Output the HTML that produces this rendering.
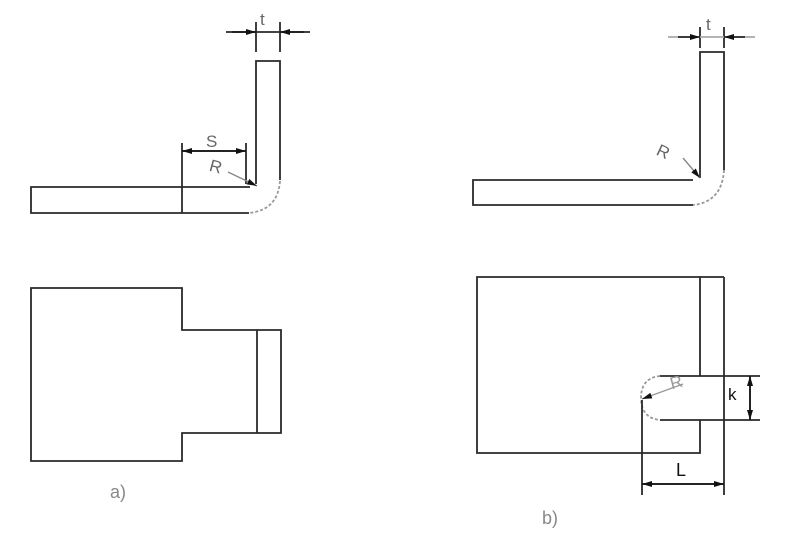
<!DOCTYPE html>
<html><head><meta charset="utf-8"><style>html,body{margin:0;padding:0;background:#fff}svg{display:block}</style></head>
<body>
<svg width="786" height="533" viewBox="0 0 786 533" xmlns="http://www.w3.org/2000/svg">
<defs>
<marker id="ar" markerWidth="10" markerHeight="6" refX="10" refY="3" orient="auto" markerUnits="userSpaceOnUse"><path d="M0,0 L10,3 L0,6 Z" fill="#111"/></marker>
</defs>
<g fill="none" stroke="#2a2a2a" stroke-width="1.8">
<!-- Fig a top -->
<path d="M250,187 H31 V213 H249"/>
<line x1="182" y1="143" x2="182" y2="213"/>
<path d="M256,184 V61 H280 V180"/>
<path d="M280,181 Q278,210 249,213" stroke="#999" stroke-dasharray="3,2"/>
<line x1="256" y1="22" x2="256" y2="52"/>
<line x1="280" y1="22" x2="280" y2="52"/>
<line x1="226" y1="32" x2="310" y2="32"/>
<line x1="246" y1="143" x2="246" y2="184"/>
<line x1="182" y1="151" x2="246" y2="151"/>
<!-- Fig a bottom -->
<path d="M31,288 H182 V330 H281 V433 H182 V461 H31 Z"/>
<line x1="257" y1="330" x2="257" y2="433"/>
<!-- Fig b top -->
<path d="M693,180 H473 V205 H693"/>
<path d="M700,178 V52 H724 V170"/>
<path d="M724,170 Q722,202 693,205" stroke="#999" stroke-dasharray="3,2"/>
<line x1="700" y1="27" x2="700" y2="48"/>
<line x1="724" y1="27" x2="724" y2="48"/>
<line x1="668" y1="37" x2="755" y2="37" stroke="#aaa"/>
<!-- Fig b bottom -->
<path d="M700,376 V277 H477 V453 H700 V420"/>
<line x1="700" y1="277" x2="724" y2="277"/>
<line x1="724" y1="277" x2="724" y2="495"/>
<line x1="660" y1="376" x2="760" y2="376"/>
<line x1="660" y1="420" x2="760" y2="420"/>
<path d="M660,376 Q641,378 641,398 Q641,418 660,420" stroke="#999" stroke-dasharray="3,2"/>
<line x1="642" y1="400" x2="642" y2="495"/>
<line x1="642" y1="484" x2="724" y2="484"/>
<line x1="750" y1="376" x2="750" y2="420"/>
</g>
<g stroke="#111" stroke-width="1.4">
<line x1="232" y1="32" x2="256" y2="32" marker-end="url(#ar)"/>
<line x1="304" y1="32" x2="280" y2="32" marker-end="url(#ar)"/>
<line x1="214" y1="151" x2="182" y2="151" marker-end="url(#ar)"/>
<line x1="214" y1="151" x2="246" y2="151" marker-end="url(#ar)"/>
<line x1="228" y1="172" x2="257" y2="186" marker-end="url(#ar)" stroke="#888"/>
<line x1="678" y1="37" x2="700" y2="37" marker-end="url(#ar)"/>
<line x1="745" y1="37" x2="724" y2="37" marker-end="url(#ar)"/>
<line x1="683" y1="158" x2="700" y2="178" marker-end="url(#ar)" stroke="#888"/>
<line x1="683" y1="384" x2="642" y2="399" marker-end="url(#ar)" stroke="#999"/>
<line x1="683" y1="484" x2="642" y2="484" marker-end="url(#ar)"/>
<line x1="683" y1="484" x2="724" y2="484" marker-end="url(#ar)"/>
<line x1="750" y1="398" x2="750" y2="376" marker-end="url(#ar)"/>
<line x1="750" y1="398" x2="750" y2="420" marker-end="url(#ar)"/>
</g>
<g font-family="Liberation Sans, sans-serif" fill="#666">
<text x="260" y="25" font-size="17">t</text>
<text x="706" y="30" font-size="17">t</text>
<text x="206" y="147" font-size="17">S</text>
<text x="210" y="172" font-size="17" transform="rotate(15 215 165)">R</text>
<text x="658" y="158" font-size="17" transform="rotate(25 665 150)">R</text>
<text x="670" y="388" font-size="17" fill="#999" transform="rotate(-15 676 382)">R</text>
<text x="110" y="498" font-size="18" fill="#888">a)</text>
<text x="542" y="524" font-size="18" fill="#888">b)</text>
<text x="728" y="400" font-size="17" fill="#111">k</text>
<text x="676" y="476" font-size="18" fill="#111">L</text>
</g>
</svg>
</body></html>
